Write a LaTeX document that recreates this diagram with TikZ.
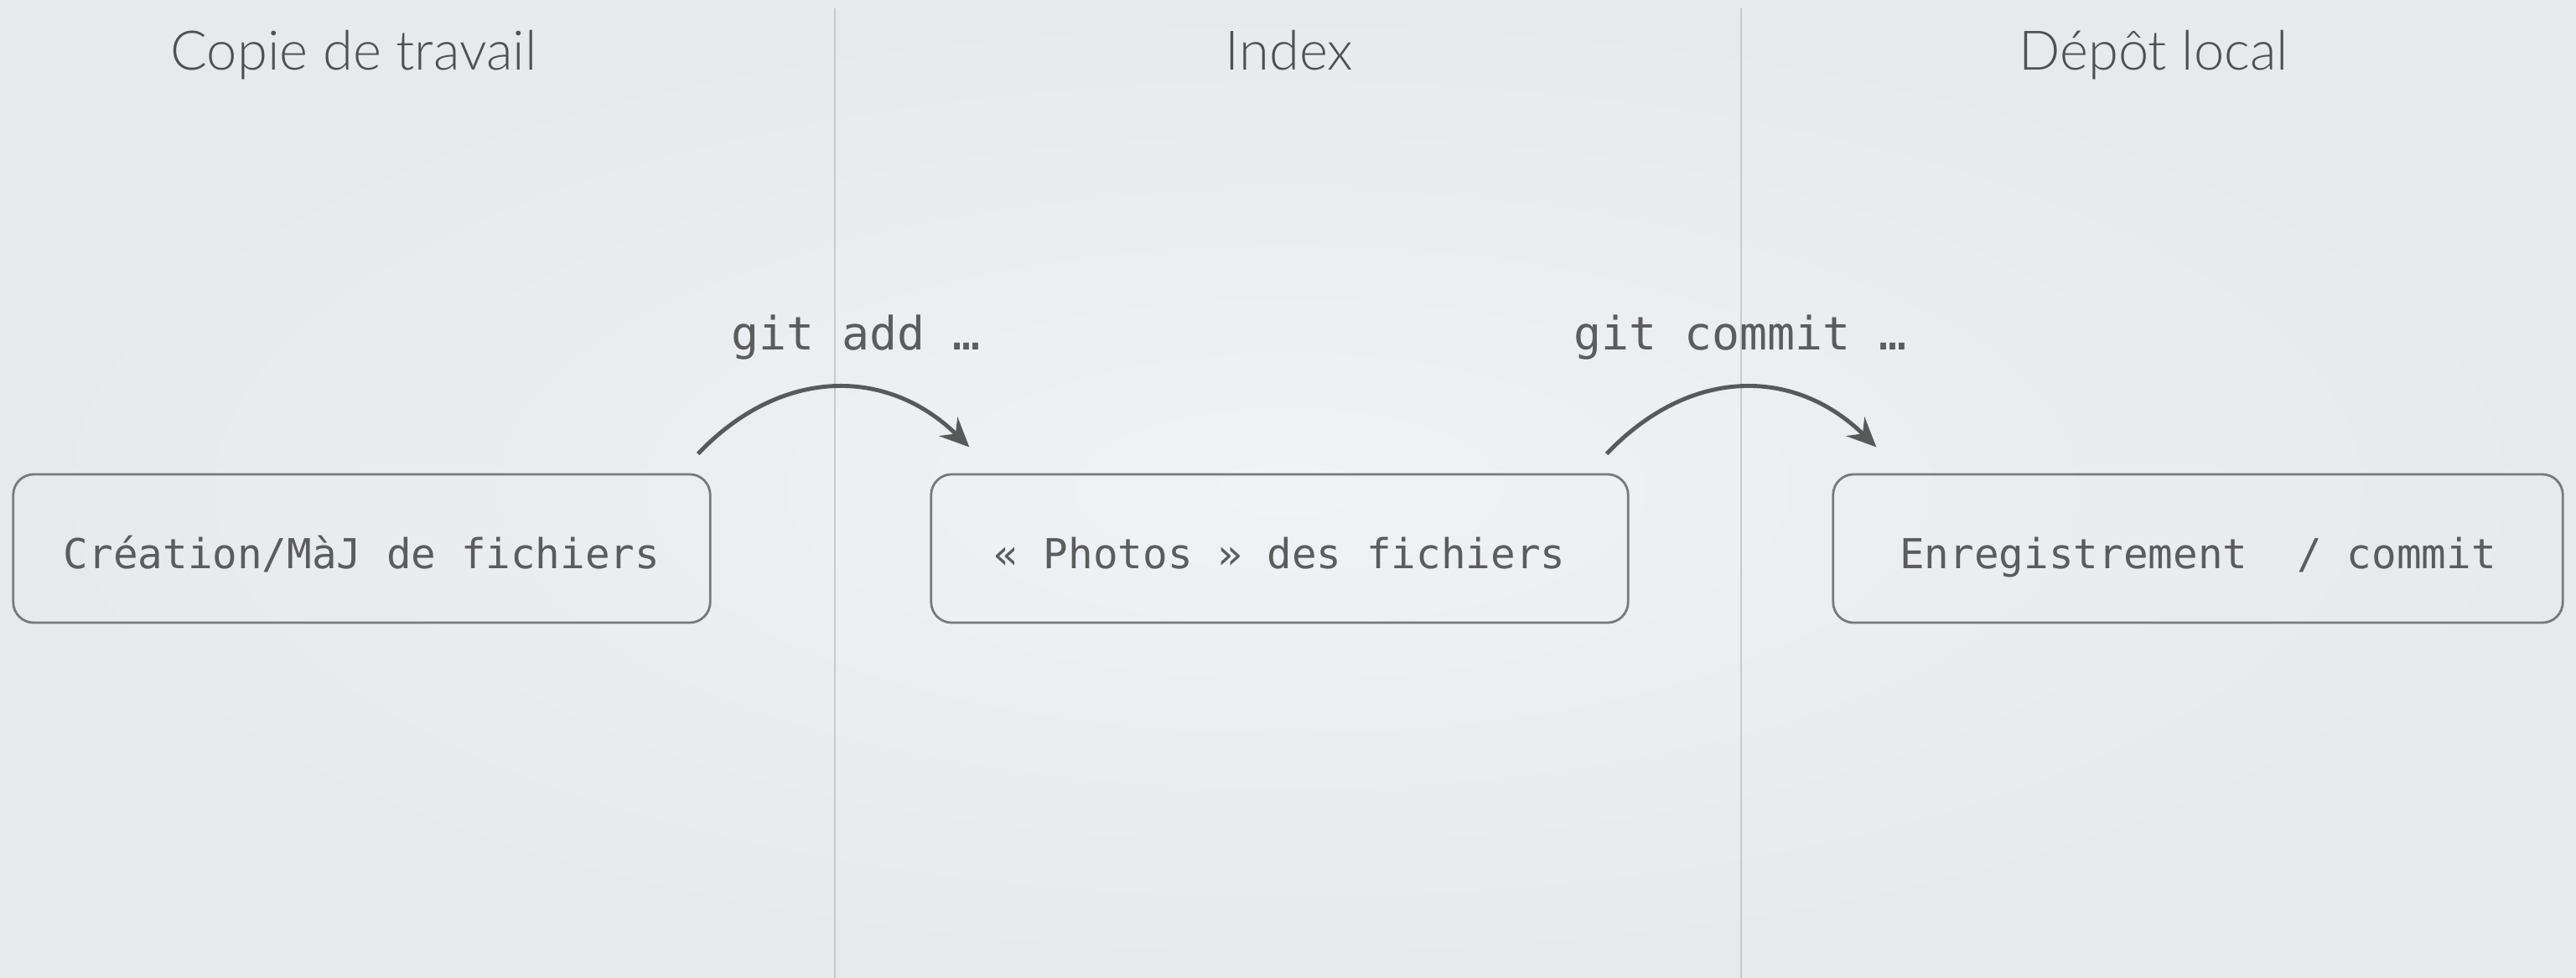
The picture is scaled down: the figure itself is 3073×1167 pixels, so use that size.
\documentclass[tikz,border=0pt]{standalone}
\usepackage{fontspec}
\usetikzlibrary{arrows.meta,calc}
\newfontfamily\titlefont{Lato Light}
\newfontfamily\codefont{DejaVu Sans Mono}
\definecolor{bgin}{RGB}{241,242,245}
\definecolor{bgout}{RGB}{231,233,237}
\definecolor{titleink}{RGB}{80,80,80}
\definecolor{ink}{RGB}{92,92,92}
\definecolor{frame}{RGB}{120,122,122}
\definecolor{divider}{RGB}{200,201,203}
\definecolor{arrowgray}{RGB}{88,90,90}

\begin{document}
\begin{tikzpicture}[x=0.01cm,y=-0.01cm,
  heading/.style={font=\titlefont\fontsize{18.5}{22}\selectfont, text=titleink, anchor=base, inner sep=0pt},
  stage/.style={draw=frame, line width=0.8pt, rounded corners=7pt,
    minimum height=1.77cm, inner sep=0pt, text height=0.47cm, text depth=0cm,
    font=\codefont\fontsize{14}{16}\selectfont, text=ink},
  cmd/.style={font=\codefont\fontsize{15.6}{18}\selectfont, text=ink, anchor=base west, inner sep=0pt},
  flow/.style={draw=arrowgray, line width=1.4pt, -{Stealth[length=10pt,width=9pt,inset=3.5pt]}},
  divider line/.style={draw=divider, line width=0.6pt}
]
% page and background
\useasboundingbox (0,0) rectangle (3073,1167);
\fill[inner color=bgin, outer color=bgout] (0,0) rectangle (3073,1167);

% column separators
\coordinate (d1top) at (996,10);
\coordinate (d1bot) at (996,1167);
\coordinate (d2top) at (2077,10);
\coordinate (d2bot) at (2077,1167);
\draw[divider line] (d1top) -- (d1bot);
\draw[divider line] (d2top) -- (d2bot);

% column headings
\node[heading] (hwork)  at (422,84)  {Copie de travail};
\node[heading] (hindex) at (1538,84) {Index};
\node[heading] (hrepo)  at (2569,84) {Dépôt local};

% stages
\node[stage, minimum width=8.31cm] (work)  at (431.5,654.5) {Création/MàJ de fichiers};
\node[stage, minimum width=8.31cm] (index) at (1526.5,654.5) {« Photos » des fichiers};
\node[stage, minimum width=8.70cm] (repo)  at (2622,654.5) {Enregistrement\ \ / commit};

% arrows between stages
\coordinate (a1s) at ($(work.north east)+(-16,-23)$);
\coordinate (a1e) at ($(index.north west)+(47,-31)$);
\coordinate (a2s) at ($(index.north east)+(-27,-23)$);
\coordinate (a2e) at ($(repo.north west)+(53,-31)$);
\draw[flow] (a1s) .. controls ($(a1s)+(99,-104)$) and ($(a1e)+(-98,-96)$) .. (a1e);
\draw[flow] (a2s) .. controls ($(a2s)+(99,-104)$) and ($(a2e)+(-98,-96)$) .. (a2e);

% commands
\node[cmd] (addcmd)    at (872,417)  {git add …};
\node[cmd] (commitcmd) at (1877,417) {git commit …};
\end{tikzpicture}
\end{document}
